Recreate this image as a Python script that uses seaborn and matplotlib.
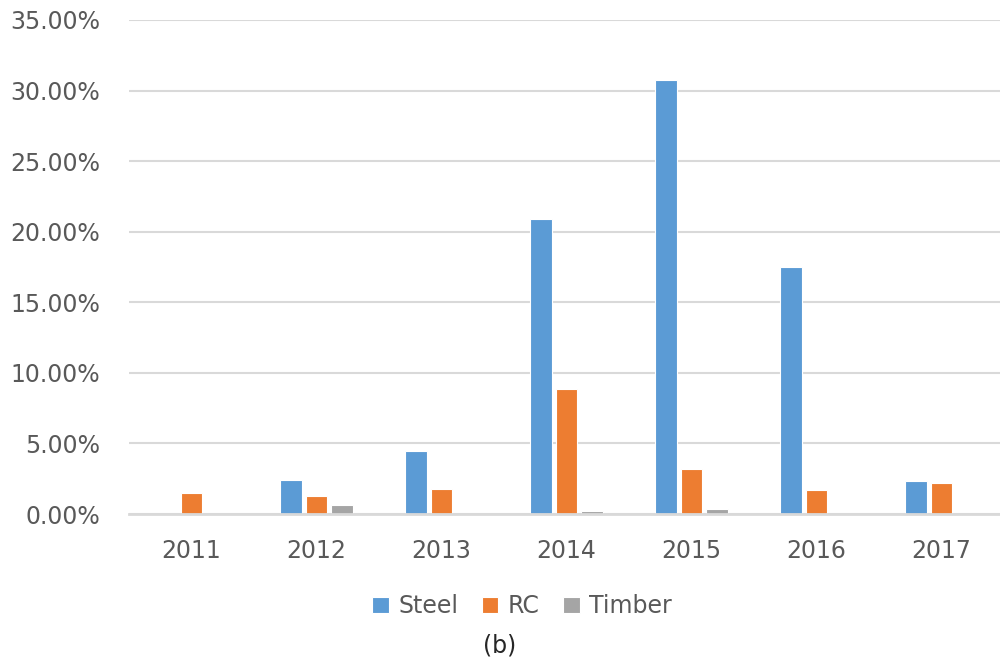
import numpy as np
import pandas as pd
import seaborn as sns
import matplotlib.pyplot as plt
from matplotlib.ticker import FuncFormatter

years = ['2011', '2012', '2013', '2014', '2015', '2016', '2017']
steel = [0.0, 2.41, 4.44, 20.9, 30.75, 17.5, 2.32]
rc = [1.47, 1.29, 1.74, 8.85, 3.19, 1.68, 2.22]
timber = [0.0, 0.64, 0.0, 0.2, 0.36, 0.0, 0.0]

series = ['Steel', 'RC', 'Timber']
colors = ['#5B9BD5', '#ED7D31', '#A5A5A5']

df = pd.DataFrame({
    'year': years * 3,
    'type': [s for s in series for _ in years],
    'value': steel + rc + timber,
})

sns.set_style('white')
plt.rcParams['font.family'] = ['DejaVu Sans']

fig = plt.figure(figsize=(10, 6.66), dpi=100)
ax = fig.add_axes([0.129, 0.2282, 0.875, 0.7418])

sns.barplot(data=df, x='year', y='value', hue='type', hue_order=series,
            palette=colors, saturation=1, width=0.616, gap=0.16, ax=ax,
            edgecolor='white', linewidth=0.8, legend=True)

ax.set_ylim(0, 35)
ax.set_xlim(-0.5, 6.5)
ax.set_yticks(np.arange(0, 36, 5))
ax.yaxis.set_major_formatter(FuncFormatter(lambda v, p: f'{v:.2f}%'))
ax.grid(axis='y', color='#D9D9D9', linewidth=1.5)
ax.set_axisbelow(True)
for s in ['top', 'right', 'left']:
    ax.spines[s].set_visible(False)
ax.spines['bottom'].set_color('#D9D9D9')
ax.spines['bottom'].set_linewidth(2)
ax.tick_params(axis='y', length=0, pad=21, labelsize=17, labelcolor='#595959')
ax.tick_params(axis='x', length=0, pad=18, labelsize=17, labelcolor='#595959')
ax.set_xlabel('')
ax.set_ylabel('')

handles, labels = ax.get_legend_handles_labels()
ax.get_legend().remove()
fig.legend(handles, labels, loc='center', bbox_to_anchor=(0.522, 0.09), ncol=3,
           frameon=False, fontsize=17, handlelength=0.7, handleheight=0.7,
           handletextpad=0.4, columnspacing=1.0, labelcolor='#595959')

fig.text(0.5, 0.0315, '(b)', ha='center', va='center', fontsize=17, color='#262626')

fig.savefig('out.png', dpi=100)
